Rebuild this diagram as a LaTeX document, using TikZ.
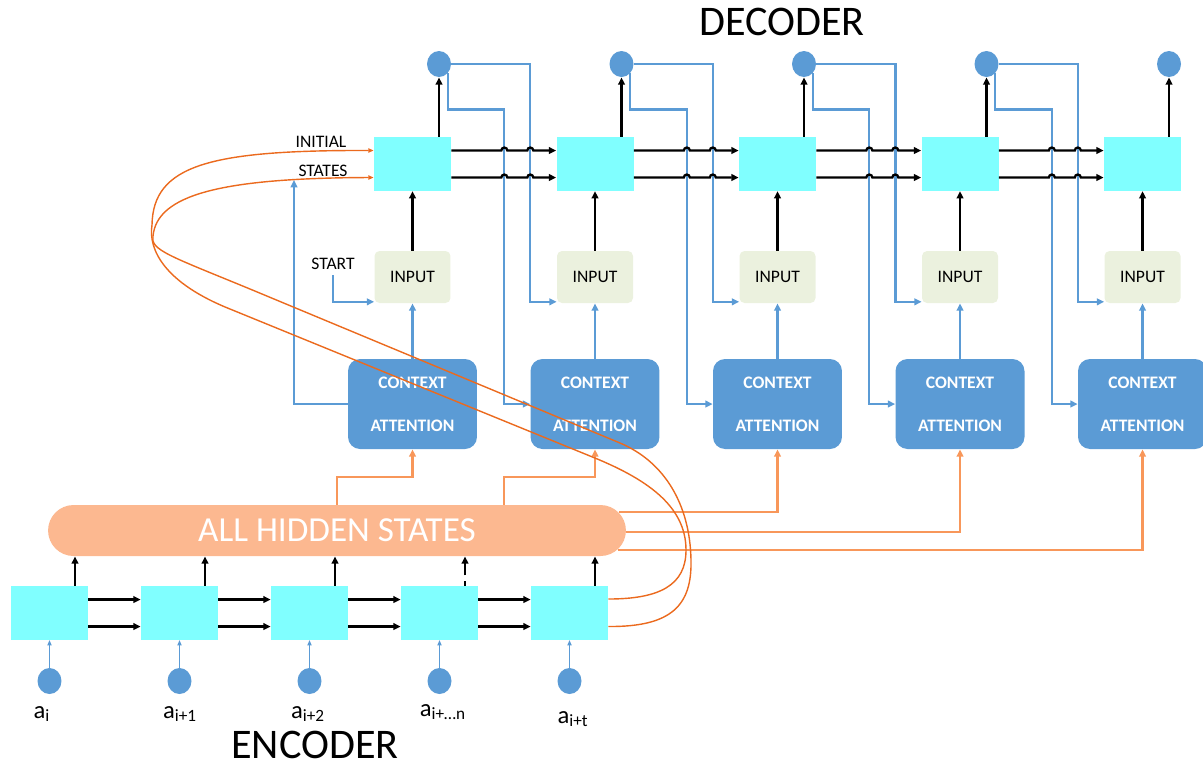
\documentclass[tikz,border=0pt]{standalone}
\usepackage{fontspec}
\setmainfont{Carlito}
\definecolor{CellCyan}{HTML}{80FFFF}
\definecolor{AttBlue}{HTML}{5B9BD5}
\definecolor{InGreen}{HTML}{EBF1DE}
\definecolor{HidPeach}{HTML}{FCB890}
\definecolor{FeedOrange}{HTML}{F8975A}
\definecolor{CurveOrange}{HTML}{EB6A1E}
\usetikzlibrary{arrows.meta,calc,shapes.geometric}
\tikzset{
  cell/.style={fill=CellCyan, minimum width=1.54cm, minimum height=1.07cm, inner sep=0pt},
  inp/.style={fill=InGreen, rounded corners=0.1cm, minimum width=1.52cm, minimum height=1.04cm, inner sep=0pt, font=\fontsize{10}{12}\selectfont},
  att/.style={fill=AttBlue, rounded corners=0.24cm, minimum width=2.58cm, minimum height=1.8cm, inner sep=0pt, align=center, text=white, font=\fontsize{10}{12}\selectfont\bfseries},
  hidden/.style={fill=HidPeach, rounded corners=0.51cm, minimum width=11.56cm, minimum height=1.02cm, inner sep=0pt, text=white, font=\fontsize{20}{24}\selectfont},
  outdot/.style={ellipse, fill=AttBlue, minimum width=0.48cm, minimum height=0.52cm, inner sep=0pt},
  arrow/.style={-{Triangle[length=4.2pt,width=3.8pt]}, line width=1.3pt, black},
  back/.style={-{Triangle[length=4.2pt,width=3.8pt]}, line width=1.3pt, AttBlue},
  feed/.style={-{Triangle[length=4.2pt,width=3.8pt]}, line width=1.3pt, FeedOrange},
  curve/.style={-{Triangle[length=3pt,width=2.4pt]}, line width=0.8pt, CurveOrange},
  inarr/.style={-{Triangle[length=3pt,width=2.4pt]}, line width=0.6pt, AttBlue},
  txt/.style={font=\fontsize{10}{12}\selectfont, inner sep=0pt},
  alab/.style={font=\fontsize{14}{16}\selectfont, inner sep=0pt, anchor=base},
  title/.style={font=\fontsize{24}{28}\selectfont, inner sep=0pt}
}
\begin{document}
\begin{tikzpicture}[x=0.02cm,y=-0.02cm]
  \useasboundingbox (0,0) rectangle (1203,769);

  % decoder
  \foreach \i [evaluate=\i as \x using 230+182.5*\i] in {1,...,5}{
    \node[cell] (d\i) at (\x,164) {};
    \node[outdot] (o\i) at (\x+26.5,64) {};
    \node[inp] (in\i) at (\x,277) {INPUT};
    \node[att] (att\i) at (\x,404) {CONTEXT\\[12.5pt]ATTENTION};
    \coordinate (inl\i) at ($(in\i.south west)+(0,-1.5)$);
    \draw[arrow] (d\i.north -| o\i) -- (o\i.south);
    \draw[arrow] (in\i) -- (d\i);
    \draw[back] (att\i) -- (in\i);
  }
  \foreach \i [evaluate=\i as \j using int(\i+1)] in {1,...,4}{
    \draw[back] (o\i.east) -- ++(79,0) |- (inl\j);
    \draw[back] (o\i.south east) -- ++(0,36) -- ++(56.5,0) |- (att\j.west);
    \draw[arrow] ([yshift=0.27cm]d\i.east) -- ++(50,0) arc[start angle=180,end angle=0,radius=1.7pt]
      -- ++(20,0) arc[start angle=180,end angle=0,radius=1.7pt] -- ([yshift=0.27cm]d\j.west);
    \draw[arrow] ([yshift=-0.27cm]d\i.east) -- ++(50,0) arc[start angle=180,end angle=0,radius=1.7pt]
      -- ++(20,0) arc[start angle=180,end angle=0,radius=1.7pt] -- ([yshift=-0.27cm]d\j.west);
  }
  \node[title] (dec) at (782,22) {DECODER};

  \node[txt] (start) at (333,264) {START};
  \draw[back] ([yshift=-3pt]start.south) |- (inl1);
  \node[txt] (initial) at (321,142) {INITIAL};
  \node[txt] (states) at (323,171) {STATES};
  \coordinate (sttip) at (294,180);
  \draw[back] (att1.west) -| (sttip);

  % encoder
  \node[hidden] (hid) at (337,530.5) {ALL HIDDEN STATES};
  \foreach \i [evaluate=\i as \x using -80.5+130*\i] in {1,...,5}{
    \node[cell] (e\i) at (\x,613) {};
    \node[outdot] (c\i) at (\x,681) {};
    \draw[inarr] (c\i) -- (e\i);
    \coordinate (eu\i) at ($(e\i.north)+(25.5,0)$);
  }
  \foreach \i in {1,2,3,5}{
    \draw[arrow] (eu\i) -- (eu\i |- hid.south);
  }
  \draw[arrow, dash pattern=on 3pt off 3pt on 20pt] (eu4) -- (eu4 |- hid.south);
  \foreach \i/\j in {1/2,2/3,3/4,4/5}{
    \draw[arrow] ([yshift=0.27cm]e\i.east) -- ([yshift=0.27cm]e\j.west);
    \draw[arrow] ([yshift=-0.27cm]e\i.east) -- ([yshift=-0.27cm]e\j.west);
  }
  \node[alab] (a1) at (42,718) {a\textsubscript{i}};
  \node[alab] (a2) at (180,718) {a\textsubscript{i+1}};
  \node[alab] (a3) at (308,718) {a\textsubscript{i+2}};
  \node[alab] (a4) at (443,716) {a\textsubscript{i+…n}};
  \node[alab] (a5) at (573,723) {a\textsubscript{i+t}};
  \node[title] (enc) at (315,745) {ENCODER};

  % hidden states to attention
  \draw[feed] (hid.north) -- ++(0,-28) -| (att1.south);
  \draw[feed] ([xshift=3.34cm]hid.north) -- ++(0,-28) -| (att2.south);
  \draw[feed] ([shift={(-0.14cm,0.37cm)}]hid.east) -| (att3.south);
  \draw[feed] ([yshift=-0.03cm]hid.east) -| (att4.south);
  \draw[feed] ([shift={(-0.16cm,-0.39cm)}]hid.east) -| (att5.south);

  % initial states
  \draw[curve] ([yshift=0.28cm]e5.east) .. controls (660,599) and (686,585) .. (686,550)
    .. controls (686,505) and (645,478) .. (590,456) -- (230,309)
    .. controls (165,283) and (148,250) .. (152,225)
    .. controls (153,165) and (210,150) .. ([yshift=0.27cm]d1.west);
  \draw[curve] ([yshift=-0.27cm]e5.east) .. controls (672,627) and (692,605) .. (691,560)
    .. controls (690,505) and (665,462) .. (620,443) -- (250,289)
    .. controls (170,256) and (150,250) .. (153,236)
    .. controls (157,195) and (220,178) .. ([yshift=-0.27cm]d1.west);
\end{tikzpicture}
\end{document}
